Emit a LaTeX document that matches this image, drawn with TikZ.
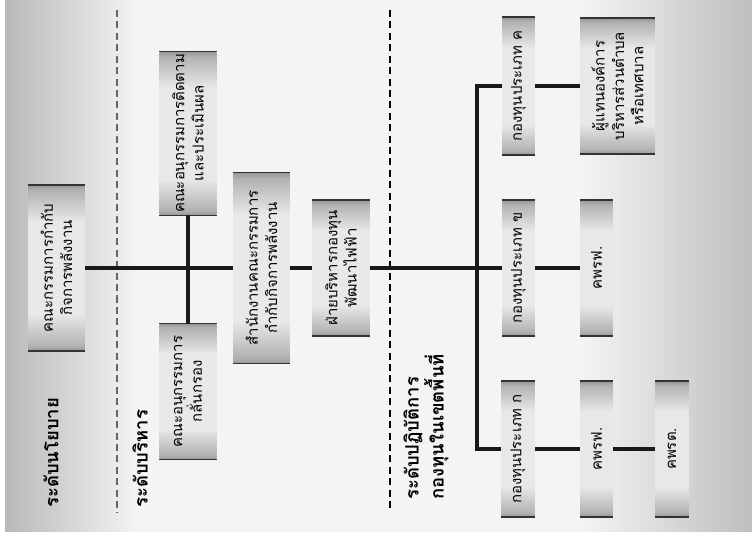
\documentclass[tikz,border=0pt]{standalone}
\usepackage{fontspec}
\newfontfamily\thaifont[Script=Thai]{Loma}
\usetikzlibrary{calc}
\pgfdeclareverticalshading{scrollshade}{100bp}{color(0bp)=(gray!80); color(25bp)=(gray!80); color(26.5bp)=(gray!60); color(36bp)=(gray!18); color(64bp)=(gray!18); color(73.5bp)=(gray!60); color(75bp)=(gray!80); color(100bp)=(gray!80)}

\begin{document}
\begin{tikzpicture}[
  x=0.02cm, y=-0.02cm,
  endline/.style={draw=black!80, line width=0.9pt},
  box/.style={rotate=90, shading=scrollshade, align=center, inner sep=1pt, minimum height=1.14cm, minimum width=2.7cm, font=\thaifont\fontsize{8.5}{11}\selectfont,
    append after command={(\tikzlastnode.north east) edge[endline] (\tikzlastnode.south east) (\tikzlastnode.north west) edge[endline] (\tikzlastnode.south west)}},
  slim/.style={box, minimum height=0.66cm},
  level/.style={rotate=90, anchor=west, inner sep=0pt, align=left, font=\thaifont\bfseries\fontsize{10.5}{13}\selectfont},
  link/.style={line width=1.8pt, draw=black!90},
  divide/.style={dash pattern=on 4pt off 2.5pt}
]
\useasboundingbox (0,0) rectangle (752,536);

% background
\fill[white] (0,0) rectangle (752,536);
\fill[gray!9] (5,0) rectangle (752,532);
\shade[left color=gray!55, right color=gray!10] (5,0) rectangle (135,532);
\shade[left color=gray!9, right color=gray!50] (580,0) rectangle (752,532);

\draw[divide, black!60, line width=0.8pt] (117,10) -- (117,513);
\draw[divide, black, line width=1.2pt] (390,10) -- (390,512);

% levels
\node[level] (policy) at (51,508) {ระดับนโยบาย};
\node[level] (admin) at (140,508) {ระดับบริหาร};
\node[level] (oper) at (426,500) {ระดับปฏิบัติการ\\กองทุนในเขตพื้นที่};

% policy and admin
\node[box, minimum width=3.3cm] (erc) at (56.5,268) {คณะกรรมการกำกับ\\กิจการพลังงาน};
\node[box, minimum width=3.26cm] (monitor) at (188,133.5) {คณะอนุกรรมการติดตาม\\และประเมินผล};
\node[box] (screen) at (188,391.5) {คณะอนุกรรมการ\\กลั่นกรอง};
\node[box, minimum width=3.8cm] (office) at (261.5,268) {สำนักงานคณะกรรมการ\\กำกับกิจการพลังงาน};
\node[box] (fundadmin) at (341,268) {ฝ่ายบริหารกองทุน\\พัฒนาไฟฟ้า};

% funds
\node[slim, minimum width=2.74cm] (fundc) at (518.5,86) {กองทุนประเภท ค};
\node[slim] (fundb) at (518.5,268) {กองทุนประเภท ข};
\node[slim] (funda) at (518,449) {กองทุนประเภท ก};
\node[box, minimum height=1.5cm] (local) at (617.5,86) {ผู้แทนองค์การ\\บริหารส่วนตำบล\\หรือเทศบาล};
\node[slim] (kprfb) at (596.5,268) {คพรฟ.};
\node[slim] (kprfa) at (596.5,449) {คพรฟ.};
\node[slim] (kprt) at (672,449) {คพรต.};

\coordinate (bus) at (477,268);

\draw[link] (erc) -- (office);
\draw[link] (monitor) -- (screen);
\draw[link] (office) -- (fundadmin);
\draw[link] (fundadmin) -- (fundb);
\draw[link] (fundc) -| (bus) |- (funda);
\draw[link] (fundc) -- (local);
\draw[link] (fundb) -- (kprfb);
\draw[link] (funda) -- (kprfa);
\draw[link] (kprfa) -- (kprt);

\end{tikzpicture}
\end{document}
